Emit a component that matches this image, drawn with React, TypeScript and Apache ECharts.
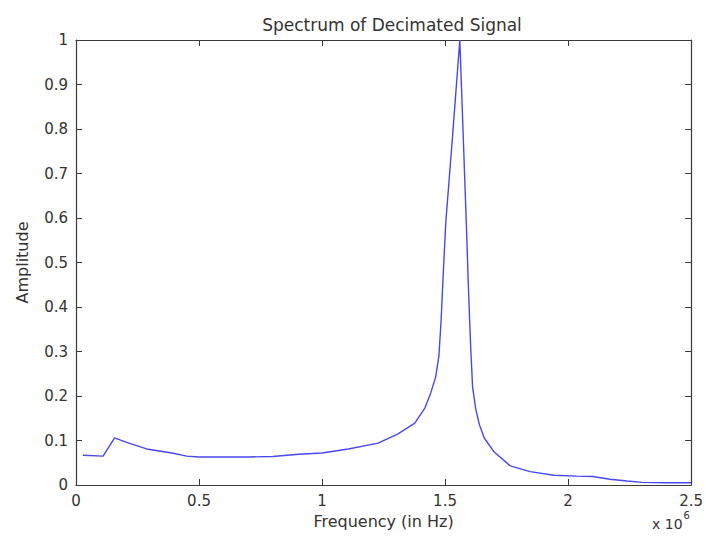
import React, { useEffect, useRef } from "react";
import * as echarts from "echarts";

const freq = [0.028, 0.11, 0.157, 0.2, 0.287, 0.39, 0.45, 0.5, 0.6, 0.7, 0.8, 0.905, 1.0, 1.107, 1.228, 1.309, 1.377, 1.418, 1.442, 1.462, 1.475, 1.484, 1.494, 1.503, 1.53, 1.56, 1.587, 1.594, 1.6, 1.605, 1.612, 1.625, 1.64, 1.66, 1.7, 1.765, 1.846, 1.943, 2.035, 2.1, 2.17, 2.24, 2.3, 2.4, 2.5];
const amp = [0.067, 0.065, 0.106, 0.097, 0.081, 0.072, 0.065, 0.063, 0.063, 0.063, 0.064, 0.069, 0.072, 0.081, 0.094, 0.115, 0.139, 0.173, 0.207, 0.243, 0.29, 0.37, 0.49, 0.59, 0.78, 1.0, 0.58, 0.46, 0.37, 0.3, 0.22, 0.17, 0.135, 0.105, 0.074, 0.043, 0.03, 0.022, 0.02, 0.019, 0.013, 0.009, 0.006, 0.005, 0.005];

const xTicks = ["0", "0.5", "1", "1.5", "2", "2.5"];

const FONT = "'DejaVu Sans', Verdana, sans-serif";
const AXIS_COLOR = "#3a3a3a";
const TEXT_COLOR = "#333333";

export default function App() {
  const ref = useRef<HTMLDivElement>(null);
  useEffect(() => {
    if (!ref.current) return;
    const chart = echarts.init(ref.current, null, { renderer: "svg" });
    const data = freq.map((f, i) => [f, amp[i]]);
    const axisCommon = {
      axisLine: { show: true, onZero: false, lineStyle: { color: AXIS_COLOR, width: 1.2 } },
      axisTick: { show: true, inside: true, length: 6, lineStyle: { color: AXIS_COLOR } },
      splitLine: { show: false },
    };
    chart.setOption({
      animation: false,
      backgroundColor: "#ffffff",
      title: {
        text: "Spectrum of Decimated Signal",
        left: 387,
        top: 11,
        textAlign: "center",
        textStyle: { fontFamily: FONT, fontSize: 17, fontWeight: "normal", color: TEXT_COLOR },
      },
      grid: { left: 76, right: 11, top: 40, bottom: 55 },
      xAxis: [
        {
          type: "value",
          min: 0,
          max: 2.5,
          interval: 0.5,
          position: "bottom",
          name: "Frequency (in Hz)",
          nameLocation: "middle",
          nameGap: 28,
          nameTextStyle: { fontFamily: FONT, fontSize: 16, color: TEXT_COLOR },
          axisLabel: {
            margin: 8,
            fontFamily: FONT,
            fontSize: 15,
            color: TEXT_COLOR,
            formatter: (v: number) => xTicks[Math.round(v / 0.5)] ?? String(v),
          },
          ...axisCommon,
        },
        {
          type: "value",
          min: 0,
          max: 2.5,
          interval: 0.5,
          position: "top",
          axisLabel: { show: false },
          ...axisCommon,
        },
      ],
      yAxis: [
        {
          type: "value",
          min: 0,
          max: 1,
          interval: 0.1,
          position: "left",
          name: "Amplitude",
          nameLocation: "middle",
          nameGap: 46,
          nameTextStyle: { fontFamily: FONT, fontSize: 16, color: TEXT_COLOR },
          axisLabel: {
            margin: 8,
            fontFamily: FONT,
            fontSize: 15,
            color: TEXT_COLOR,
            formatter: (v: number) => String(Math.round(v * 10) / 10),
          },
          ...axisCommon,
        },
        {
          type: "value",
          min: 0,
          max: 1,
          interval: 0.1,
          position: "right",
          axisLabel: { show: false },
          ...axisCommon,
        },
      ],
      graphic: [
        {
          type: "text",
          left: 652,
          top: 510,
          style: {
            text: "{a|x 10}{b|6}",
            rich: {
              a: { fontFamily: FONT, fontSize: 14, fill: TEXT_COLOR, padding: [7, 0, 0, 0] },
              b: { fontFamily: FONT, fontSize: 10, fill: TEXT_COLOR, verticalAlign: "top", padding: [0, 0, 8, 1] },
            },
          },
        },
      ],
      series: [
        {
          type: "line",
          data,
          xAxisIndex: 0,
          yAxisIndex: 0,
          showSymbol: false,
          smooth: false,
          lineStyle: { color: "#4848f0", width: 1.4 },
        },
      ],
    });
    return () => chart.dispose();
  }, []);
  return <div ref={ref} style={{ width: 706, height: 540, position: "absolute", left: 0, top: 0 }} />;
}
